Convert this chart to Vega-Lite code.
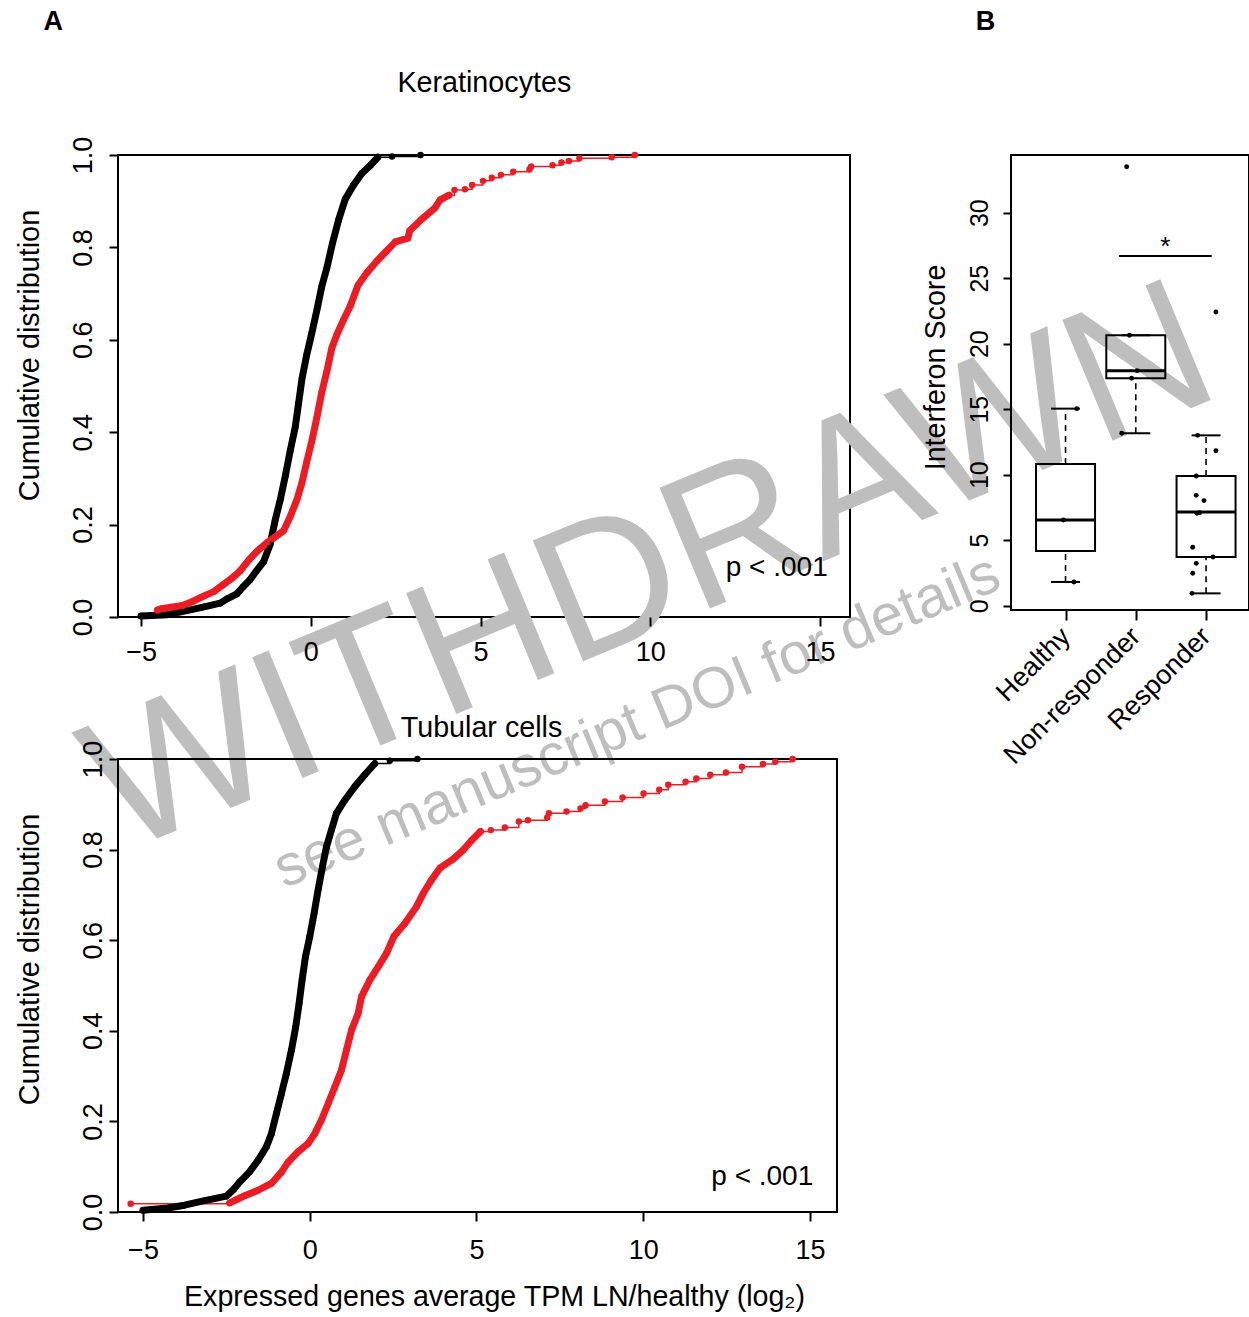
{
  "$schema": "https://vega.github.io/schema/vega-lite/v6.json",
  "autosize": {"type": "pad"},
  "padding": {"left": 14, "top": 6, "right": 0, "bottom": 0},
  "background": "white",
  "datasets": {
    "ecdf": [
      {"panel":"K","series":"reference","x":-5.0,"y":0.002},{"panel":"K","series":"reference","x":-4.22,"y":0.005},{"panel":"K","series":"reference","x":-3.83,"y":0.011},{"panel":"K","series":"reference","x":-3.14,"y":0.022},{"panel":"K","series":"reference","x":-2.67,"y":0.03},{"panel":"K","series":"reference","x":-2.45,"y":0.04},{"panel":"K","series":"reference","x":-2.18,"y":0.05},{"panel":"K","series":"reference","x":-2.0,"y":0.065},{"panel":"K","series":"reference","x":-1.8,"y":0.08},{"panel":"K","series":"reference","x":-1.6,"y":0.1},{"panel":"K","series":"reference","x":-1.39,"y":0.12},{"panel":"K","series":"reference","x":-1.2,"y":0.157},{"panel":"K","series":"reference","x":-1.05,"y":0.21},{"panel":"K","series":"reference","x":-0.9,"y":0.254},{"panel":"K","series":"reference","x":-0.75,"y":0.306},{"panel":"K","series":"reference","x":-0.61,"y":0.359},{"panel":"K","series":"reference","x":-0.46,"y":0.411},{"panel":"K","series":"reference","x":-0.36,"y":0.463},{"panel":"K","series":"reference","x":-0.26,"y":0.516},{"panel":"K","series":"reference","x":-0.12,"y":0.568},{"panel":"K","series":"reference","x":0.03,"y":0.615},{"panel":"K","series":"reference","x":0.18,"y":0.665},{"panel":"K","series":"reference","x":0.32,"y":0.715},{"panel":"K","series":"reference","x":0.47,"y":0.755},{"panel":"K","series":"reference","x":0.64,"y":0.81},{"panel":"K","series":"reference","x":0.82,"y":0.86},{"panel":"K","series":"reference","x":1.01,"y":0.904},{"panel":"K","series":"reference","x":1.25,"y":0.934},{"panel":"K","series":"reference","x":1.5,"y":0.96},{"panel":"K","series":"reference","x":1.76,"y":0.978},{"panel":"K","series":"reference","x":1.97,"y":0.995},{"panel":"K","series":"reference","x":2.39,"y":0.997},{"panel":"K","series":"reference","x":3.23,"y":1.0},
      {"panel":"K","series":"signature","x":-4.52,"y":0.015},{"panel":"K","series":"signature","x":-4.4,"y":0.018},{"panel":"K","series":"signature","x":-3.78,"y":0.025},{"panel":"K","series":"signature","x":-3.5,"y":0.033},{"panel":"K","series":"signature","x":-3.16,"y":0.045},{"panel":"K","series":"signature","x":-2.86,"y":0.055},{"panel":"K","series":"signature","x":-2.6,"y":0.069},{"panel":"K","series":"signature","x":-2.32,"y":0.084},{"panel":"K","series":"signature","x":-2.08,"y":0.1},{"panel":"K","series":"signature","x":-1.83,"y":0.123},{"panel":"K","series":"signature","x":-1.59,"y":0.142},{"panel":"K","series":"signature","x":-1.29,"y":0.161},{"panel":"K","series":"signature","x":-1.0,"y":0.176},{"panel":"K","series":"signature","x":-0.8,"y":0.187},{"panel":"K","series":"signature","x":-0.61,"y":0.217},{"panel":"K","series":"signature","x":-0.41,"y":0.254},{"panel":"K","series":"signature","x":-0.26,"y":0.291},{"panel":"K","series":"signature","x":-0.12,"y":0.336},{"panel":"K","series":"signature","x":0.03,"y":0.381},{"panel":"K","series":"signature","x":0.18,"y":0.433},{"panel":"K","series":"signature","x":0.32,"y":0.486},{"panel":"K","series":"signature","x":0.47,"y":0.531},{"panel":"K","series":"signature","x":0.62,"y":0.583},{"panel":"K","series":"signature","x":0.76,"y":0.61},{"panel":"K","series":"signature","x":0.96,"y":0.643},{"panel":"K","series":"signature","x":1.16,"y":0.673},{"panel":"K","series":"signature","x":1.39,"y":0.718},{"panel":"K","series":"signature","x":1.65,"y":0.745},{"panel":"K","series":"signature","x":1.94,"y":0.77},{"panel":"K","series":"signature","x":2.2,"y":0.79},{"panel":"K","series":"signature","x":2.49,"y":0.812},{"panel":"K","series":"signature","x":2.86,"y":0.82},{"panel":"K","series":"signature","x":2.91,"y":0.836},{"panel":"K","series":"signature","x":3.28,"y":0.862},{"panel":"K","series":"signature","x":3.65,"y":0.885},{"panel":"K","series":"signature","x":3.81,"y":0.903},{"panel":"K","series":"signature","x":4.07,"y":0.913},{"panel":"K","series":"signature","x":4.23,"y":0.924},{"panel":"K","series":"signature","x":4.54,"y":0.926},{"panel":"K","series":"signature","x":4.75,"y":0.935},{"panel":"K","series":"signature","x":5.07,"y":0.944},{"panel":"K","series":"signature","x":5.33,"y":0.951},{"panel":"K","series":"signature","x":5.6,"y":0.957},{"panel":"K","series":"signature","x":5.96,"y":0.964},{"panel":"K","series":"signature","x":6.44,"y":0.969},{"panel":"K","series":"signature","x":6.49,"y":0.975},{"panel":"K","series":"signature","x":7.12,"y":0.978},{"panel":"K","series":"signature","x":7.38,"y":0.984},{"panel":"K","series":"signature","x":7.6,"y":0.987},{"panel":"K","series":"signature","x":7.91,"y":0.993},{"panel":"K","series":"signature","x":8.86,"y":0.995},{"panel":"K","series":"signature","x":9.54,"y":1.0},
      {"panel":"T","series":"reference","x":-5.0,"y":0.004},{"panel":"T","series":"reference","x":-4.25,"y":0.009},{"panel":"T","series":"reference","x":-3.76,"y":0.015},{"panel":"T","series":"reference","x":-3.15,"y":0.025},{"panel":"T","series":"reference","x":-2.5,"y":0.035},{"panel":"T","series":"reference","x":-2.28,"y":0.05},{"panel":"T","series":"reference","x":-2.1,"y":0.066},{"panel":"T","series":"reference","x":-1.8,"y":0.089},{"panel":"T","series":"reference","x":-1.55,"y":0.114},{"panel":"T","series":"reference","x":-1.3,"y":0.144},{"panel":"T","series":"reference","x":-1.15,"y":0.173},{"panel":"T","series":"reference","x":-1.0,"y":0.217},{"panel":"T","series":"reference","x":-0.85,"y":0.261},{"panel":"T","series":"reference","x":-0.7,"y":0.306},{"panel":"T","series":"reference","x":-0.55,"y":0.357},{"panel":"T","series":"reference","x":-0.42,"y":0.409},{"panel":"T","series":"reference","x":-0.32,"y":0.46},{"panel":"T","series":"reference","x":-0.23,"y":0.512},{"panel":"T","series":"reference","x":-0.13,"y":0.563},{"panel":"T","series":"reference","x":0.0,"y":0.608},{"panel":"T","series":"reference","x":0.13,"y":0.659},{"panel":"T","series":"reference","x":0.25,"y":0.711},{"panel":"T","series":"reference","x":0.38,"y":0.762},{"panel":"T","series":"reference","x":0.5,"y":0.806},{"panel":"T","series":"reference","x":0.65,"y":0.843},{"panel":"T","series":"reference","x":0.8,"y":0.88},{"panel":"T","series":"reference","x":1.05,"y":0.909},{"panel":"T","series":"reference","x":1.35,"y":0.939},{"panel":"T","series":"reference","x":1.65,"y":0.965},{"panel":"T","series":"reference","x":1.95,"y":0.99},{"panel":"T","series":"reference","x":2.4,"y":0.996},{"panel":"T","series":"reference","x":3.23,"y":1.0},
      {"panel":"T","series":"signature","x":-5.37,"y":0.018},{"panel":"T","series":"signature","x":-2.4,"y":0.02},{"panel":"T","series":"signature","x":-2.2,"y":0.027},{"panel":"T","series":"signature","x":-1.95,"y":0.036},{"panel":"T","series":"signature","x":-1.55,"y":0.048},{"panel":"T","series":"signature","x":-1.15,"y":0.063},{"panel":"T","series":"signature","x":-0.85,"y":0.088},{"panel":"T","series":"signature","x":-0.65,"y":0.11},{"panel":"T","series":"signature","x":-0.35,"y":0.133},{"panel":"T","series":"signature","x":-0.05,"y":0.151},{"panel":"T","series":"signature","x":0.15,"y":0.173},{"panel":"T","series":"signature","x":0.35,"y":0.203},{"panel":"T","series":"signature","x":0.55,"y":0.239},{"panel":"T","series":"signature","x":0.75,"y":0.276},{"panel":"T","series":"signature","x":0.95,"y":0.313},{"panel":"T","series":"signature","x":1.1,"y":0.357},{"panel":"T","series":"signature","x":1.25,"y":0.401},{"panel":"T","series":"signature","x":1.45,"y":0.438},{"panel":"T","series":"signature","x":1.55,"y":0.475},{"panel":"T","series":"signature","x":1.8,"y":0.512},{"panel":"T","series":"signature","x":2.05,"y":0.541},{"panel":"T","series":"signature","x":2.3,"y":0.571},{"panel":"T","series":"signature","x":2.52,"y":0.608},{"panel":"T","series":"signature","x":2.85,"y":0.637},{"panel":"T","series":"signature","x":3.2,"y":0.674},{"panel":"T","series":"signature","x":3.4,"y":0.703},{"panel":"T","series":"signature","x":3.65,"y":0.733},{"panel":"T","series":"signature","x":3.9,"y":0.759},{"panel":"T","series":"signature","x":4.3,"y":0.779},{"panel":"T","series":"signature","x":4.6,"y":0.799},{"panel":"T","series":"signature","x":4.85,"y":0.82},{"panel":"T","series":"signature","x":5.12,"y":0.84},{"panel":"T","series":"signature","x":5.43,"y":0.843},{"panel":"T","series":"signature","x":5.85,"y":0.849},{"panel":"T","series":"signature","x":6.27,"y":0.862},{"panel":"T","series":"signature","x":6.54,"y":0.865},{"panel":"T","series":"signature","x":7.12,"y":0.871},{"panel":"T","series":"signature","x":7.17,"y":0.88},{"panel":"T","series":"signature","x":7.7,"y":0.884},{"panel":"T","series":"signature","x":8.12,"y":0.891},{"panel":"T","series":"signature","x":8.27,"y":0.898},{"panel":"T","series":"signature","x":8.85,"y":0.906},{"panel":"T","series":"signature","x":9.38,"y":0.915},{"panel":"T","series":"signature","x":10.01,"y":0.924},{"panel":"T","series":"signature","x":10.48,"y":0.932},{"panel":"T","series":"signature","x":10.75,"y":0.943},{"panel":"T","series":"signature","x":11.27,"y":0.95},{"panel":"T","series":"signature","x":11.59,"y":0.957},{"panel":"T","series":"signature","x":12.01,"y":0.965},{"panel":"T","series":"signature","x":12.48,"y":0.97},{"panel":"T","series":"signature","x":12.96,"y":0.983},{"panel":"T","series":"signature","x":13.59,"y":0.989},{"panel":"T","series":"signature","x":13.96,"y":0.994},{"panel":"T","series":"signature","x":14.48,"y":1.0}
    ],
    "boxes": [
      {"group":"Healthy","x":1,"lo":1.81,"q1":4.17,"med":6.54,"q3":10.82,"hi":15.04},
      {"group":"Non-responder","x":2,"lo":13.16,"q1":17.36,"med":17.94,"q3":20.64,"hi":20.64},
      {"group":"Responder","x":3,"lo":0.94,"q1":3.72,"med":7.15,"q3":9.9,"hi":13.0}
    ],
    "pts": [
      {"group":"Healthy","x":1.16,"y":15.04},{"group":"Healthy","x":0.97,"y":6.54},{"group":"Healthy","x":1.12,"y":1.81},
      {"group":"Non-responder","x":1.87,"y":33.5},{"group":"Non-responder","x":1.91,"y":20.64},{"group":"Non-responder","x":2.02,"y":17.94},{"group":"Non-responder","x":1.94,"y":17.36},{"group":"Non-responder","x":1.8,"y":13.16},
      {"group":"Responder","x":3.14,"y":22.42},{"group":"Responder","x":2.88,"y":13.0},{"group":"Responder","x":3.14,"y":11.83},{"group":"Responder","x":2.86,"y":9.9},{"group":"Responder","x":2.86,"y":8.42},{"group":"Responder","x":2.97,"y":8.02},{"group":"Responder","x":2.87,"y":7.05},{"group":"Responder","x":2.91,"y":7.1},{"group":"Responder","x":2.81,"y":4.46},{"group":"Responder","x":3.1,"y":3.72},{"group":"Responder","x":2.86,"y":3.23},{"group":"Responder","x":2.81,"y":2.47},{"group":"Responder","x":2.8,"y":0.94}
    ]
  },
  "columns": 2,
  "spacing": {"row": 142, "column": 161},
  "bounds": "flush",
  "align": "all",
  "concat": [
    {
      "width": 732,
      "height": 462,
      "encoding": {
        "x": {"field": "x", "type": "quantitative", "scale": {"domain": [-5.68, 15.88], "nice": false, "zero": false},
          "axis": {"values": [-5, 0, 5, 10, 15], "format": "d", "title": null, "tickSize": 9, "labelFontSize": 27, "labelBaseline": "alphabetic", "labelPadding": 34, "labelAlign": "center", "zindex": 2}},
        "y": {"field": "y", "type": "quantitative", "scale": {"domain": [0, 1], "nice": false, "zero": false},
          "axis": {"values": [0, 0.2, 0.4, 0.6, 0.8, 1.0], "format": ".1f", "title": "Cumulative distribution", "tickSize": 9, "labelFontSize": 27, "labelAngle": 270, "labelAlign": "center", "labelBaseline": "alphabetic", "labelPadding": 18, "titleFontSize": 28.8, "titleAngle": 270, "titleAlign": "center", "titleBaseline": "alphabetic", "titleX": -80, "titleY": 200, "zindex": 2}}
      },
      "layer": [
        {"data": {"values": [{"x": 10.66, "y": -0.015, "label": "WITHDRAWN"}]}, "mark": {"type": "text", "fontSize": 190, "angle": 337.4, "align": "center", "baseline": "alphabetic", "color": "#bebebe", "clip": false, "zindex": 0}, "encoding": {"text": {"field": "label"}}},
        {"data": {"values": [{"x": 9.81, "y": -0.262, "label": "see manuscript DOI for details"}]}, "mark": {"type": "text", "fontSize": 58, "angle": 337.3, "align": "center", "baseline": "alphabetic", "color": "#bebebe", "clip": false, "zindex": 0}, "encoding": {"text": {"field": "label"}}},
        {"data": {"name": "ecdf"}, "transform": [{"filter": "datum.panel == 'K' && ((datum.series == 'reference' && datum.x >= 1.97) || (datum.series == 'signature' && datum.x >= 4.07))"}], "mark": {"type": "line", "interpolate": "step-after", "strokeWidth": 1.5},
          "encoding": {"color": {"field": "series", "type": "nominal", "scale": {"domain": ["reference", "signature"], "range": ["#000000", "#ed1c24"]}, "legend": null}}},
        {"data": {"name": "ecdf"}, "transform": [{"filter": "datum.panel == 'K' && ((datum.series == 'reference' && datum.x <= 2.0) || (datum.series == 'signature' && datum.x <= 4.1))"}], "mark": {"type": "line", "strokeWidth": 7, "strokeCap": "round", "strokeJoin": "round"},
          "encoding": {"color": {"field": "series", "type": "nominal", "scale": {"domain": ["reference", "signature"], "range": ["#000000", "#ed1c24"]}, "legend": null}}},
        {"data": {"name": "ecdf"}, "transform": [{"filter": "datum.panel == 'K'"}], "mark": {"type": "circle", "size": 42, "opacity": 1},
          "encoding": {"color": {"field": "series", "type": "nominal", "scale": {"domain": ["reference", "signature"], "range": ["#000000", "#ed1c24"]}, "legend": null}}},
        {"data": {"values": [{"x": 12.22, "y": 0.0887, "label": "p < .001"}]}, "mark": {"type": "text", "fontSize": 28, "align": "left", "baseline": "alphabetic", "color": "black"}, "encoding": {"text": {"field": "label"}}},
        {"data": {"values": [{"x": 5.11, "y": 1.136, "label": "Keratinocytes"}]}, "mark": {"type": "text", "fontSize": 28.7, "align": "center", "baseline": "alphabetic", "color": "black", "clip": false}, "encoding": {"text": {"field": "label"}}},
        {"data": {"values": [{"x": -7.585, "y": 1.2706, "label": "A"}]}, "mark": {"type": "text", "fontSize": 27, "fontWeight": "bold", "align": "center", "baseline": "alphabetic", "color": "black", "clip": false}, "encoding": {"text": {"field": "label"}}}
      ]
    },
    {
      "width": 238,
      "height": 455,
      "encoding": {
        "x": {"field": "x", "type": "quantitative", "scale": {"domain": [0.295, 3.54], "nice": false, "zero": false},
          "axis": {"values": [1, 2, 3], "labelExpr": "datum.value == 1 ? 'Healthy' : datum.value == 2 ? 'Non-responder' : 'Responder'", "title": null, "tickSize": 10, "labelFontSize": 27, "labelAngle": 315, "labelAlign": "right", "labelBaseline": "middle", "labelPadding": 12, "labelLimit": 0, "zindex": 2}},
        "y": {"field": "y", "type": "quantitative", "scale": {"domain": [-0.33, 34.4], "nice": false, "zero": false},
          "axis": {"values": [0, 5, 10, 15, 20, 25, 30], "format": "d", "title": "Interferon Score", "tickSize": 8, "labelFontSize": 25, "labelAngle": 270, "labelAlign": "center", "labelBaseline": "alphabetic", "labelPadding": 16, "titleFontSize": 28.7, "titleAngle": 270, "titleAlign": "center", "titleBaseline": "alphabetic", "titleX": -67, "titleY": 212, "zindex": 2}}
      },
      "layer": [
        {"data": {"values": [{"x": -0.14, "y": 43.95, "label": "B"}]}, "mark": {"type": "text", "fontSize": 27, "fontWeight": "bold", "align": "center", "baseline": "alphabetic", "color": "black", "clip": false}, "encoding": {"text": {"field": "label"}}},
        {"data": {"name": "boxes"}, "mark": {"type": "rule", "strokeDash": [6, 5], "strokeWidth": 1.6, "color": "black"},
          "encoding": {"y": {"field": "q3", "type": "quantitative", "scale": {"domain": [-0.33, 34.4], "nice": false, "zero": false}}, "y2": {"field": "hi"}}},
        {"data": {"name": "boxes"}, "mark": {"type": "rule", "strokeDash": [6, 5], "strokeWidth": 1.6, "color": "black"},
          "encoding": {"y": {"field": "lo", "type": "quantitative", "scale": {"domain": [-0.33, 34.4], "nice": false, "zero": false}}, "y2": {"field": "q1"}}},
        {"data": {"name": "boxes"}, "mark": {"type": "tick", "orient": "horizontal", "size": 29, "thickness": 2, "color": "black", "opacity": 1},
          "encoding": {"y": {"field": "hi", "type": "quantitative", "scale": {"domain": [-0.33, 34.4], "nice": false, "zero": false}}}},
        {"data": {"name": "boxes"}, "mark": {"type": "tick", "orient": "horizontal", "size": 29, "thickness": 2, "color": "black", "opacity": 1},
          "encoding": {"y": {"field": "lo", "type": "quantitative", "scale": {"domain": [-0.33, 34.4], "nice": false, "zero": false}}}},
        {"data": {"name": "boxes"}, "mark": {"type": "bar", "width": 59, "fill": "transparent", "stroke": "black", "strokeWidth": 2},
          "encoding": {"y": {"field": "q1", "type": "quantitative", "scale": {"domain": [-0.33, 34.4], "nice": false, "zero": false}}, "y2": {"field": "q3"}}},
        {"data": {"name": "boxes"}, "mark": {"type": "tick", "orient": "horizontal", "size": 59, "thickness": 3, "color": "black", "opacity": 1},
          "encoding": {"y": {"field": "med", "type": "quantitative", "scale": {"domain": [-0.33, 34.4], "nice": false, "zero": false}}}},
        {"data": {"name": "pts"}, "mark": {"type": "circle", "size": 24, "color": "black", "opacity": 1}},
        {"data": {"values": [{"x": 1.76, "x2": 3.08, "y": 26.7}]}, "mark": {"type": "rule", "strokeWidth": 2, "color": "black"}, "encoding": {"x2": {"field": "x2"}}},
        {"data": {"values": [{"x": 2.42, "y": 26.8, "label": "*"}]}, "mark": {"type": "text", "fontSize": 26, "align": "center", "baseline": "alphabetic", "color": "black"}, "encoding": {"text": {"field": "label"}}}
      ]
    },
    {
      "width": 719,
      "height": 453,
      "encoding": {
        "x": {"field": "x", "type": "quantitative", "scale": {"domain": [-5.75, 15.81], "nice": false, "zero": false},
          "axis": {"values": [-5, 0, 5, 10, 15], "format": "d", "title": "Expressed genes average TPM LN/healthy (log₂)", "tickSize": 9, "labelFontSize": 27, "labelBaseline": "alphabetic", "labelPadding": 37, "labelAlign": "center", "titleFontSize": 28.6, "titleAngle": 0, "titleAlign": "center", "titleBaseline": "alphabetic", "titleX": 376, "titleY": 93, "zindex": 2}},
        "y": {"field": "y", "type": "quantitative", "scale": {"domain": [0, 1], "nice": false, "zero": false},
          "axis": {"values": [0, 0.2, 0.4, 0.6, 0.8, 1.0], "format": ".1f", "title": "Cumulative distribution", "tickSize": 9, "labelFontSize": 27, "labelAngle": 270, "labelAlign": "center", "labelBaseline": "alphabetic", "labelPadding": 8, "titleFontSize": 28.8, "titleAngle": 270, "titleAlign": "center", "titleBaseline": "alphabetic", "titleX": -80, "titleY": 200, "zindex": 2}}
      },
      "layer": [
        {"data": {"name": "ecdf"}, "transform": [{"filter": "datum.panel == 'T' && ((datum.series == 'reference' && datum.x >= 1.95) || (datum.series == 'signature' && datum.x >= 5.12))"}], "mark": {"type": "line", "interpolate": "step-after", "strokeWidth": 1.5},
          "encoding": {"color": {"field": "series", "type": "nominal", "scale": {"domain": ["reference", "signature"], "range": ["#000000", "#ed1c24"]}, "legend": null}}},
        {"data": {"name": "ecdf"}, "transform": [{"filter": "datum.panel == 'T' && datum.series == 'signature' && datum.x <= -2.4"}], "mark": {"type": "line", "interpolate": "step-after", "strokeWidth": 1.5, "color": "#ed1c24"}},
        {"data": {"name": "ecdf"}, "transform": [{"filter": "datum.panel == 'T' && ((datum.series == 'reference' && datum.x <= 2.0) || (datum.series == 'signature' && datum.x >= -2.4 && datum.x <= 5.2))"}], "mark": {"type": "line", "strokeWidth": 7, "strokeCap": "round", "strokeJoin": "round"},
          "encoding": {"color": {"field": "series", "type": "nominal", "scale": {"domain": ["reference", "signature"], "range": ["#000000", "#ed1c24"]}, "legend": null}}},
        {"data": {"name": "ecdf"}, "transform": [{"filter": "datum.panel == 'T'"}], "mark": {"type": "circle", "size": 42, "opacity": 1},
          "encoding": {"color": {"field": "series", "type": "nominal", "scale": {"domain": ["reference", "signature"], "range": ["#000000", "#ed1c24"]}, "legend": null}}},
        {"data": {"values": [{"x": 12.04, "y": 0.0596, "label": "p < .001"}]}, "mark": {"type": "text", "fontSize": 28, "align": "left", "baseline": "alphabetic", "color": "black"}, "encoding": {"text": {"field": "label"}}},
        {"data": {"values": [{"x": 5.15, "y": 1.0486, "label": "Tubular cells"}]}, "mark": {"type": "text", "fontSize": 28.7, "align": "center", "baseline": "alphabetic", "color": "black", "clip": false}, "encoding": {"text": {"field": "label"}}}
      ]
    }
  ],
  "config": {
    "font": "Liberation Sans",
    "view": {"stroke": "black", "strokeWidth": 2},
    "axis": {"domain": false, "grid": false, "ticks": true, "tickColor": "black", "tickWidth": 2, "labelColor": "black", "titleColor": "black", "labelFont": "Liberation Sans", "titleFont": "Liberation Sans", "titleFontWeight": "normal", "labelOverlap": false, "labelFlush": false},
    "text": {"font": "Liberation Sans"},
    "title": {"font": "Liberation Sans"}
  }
}
